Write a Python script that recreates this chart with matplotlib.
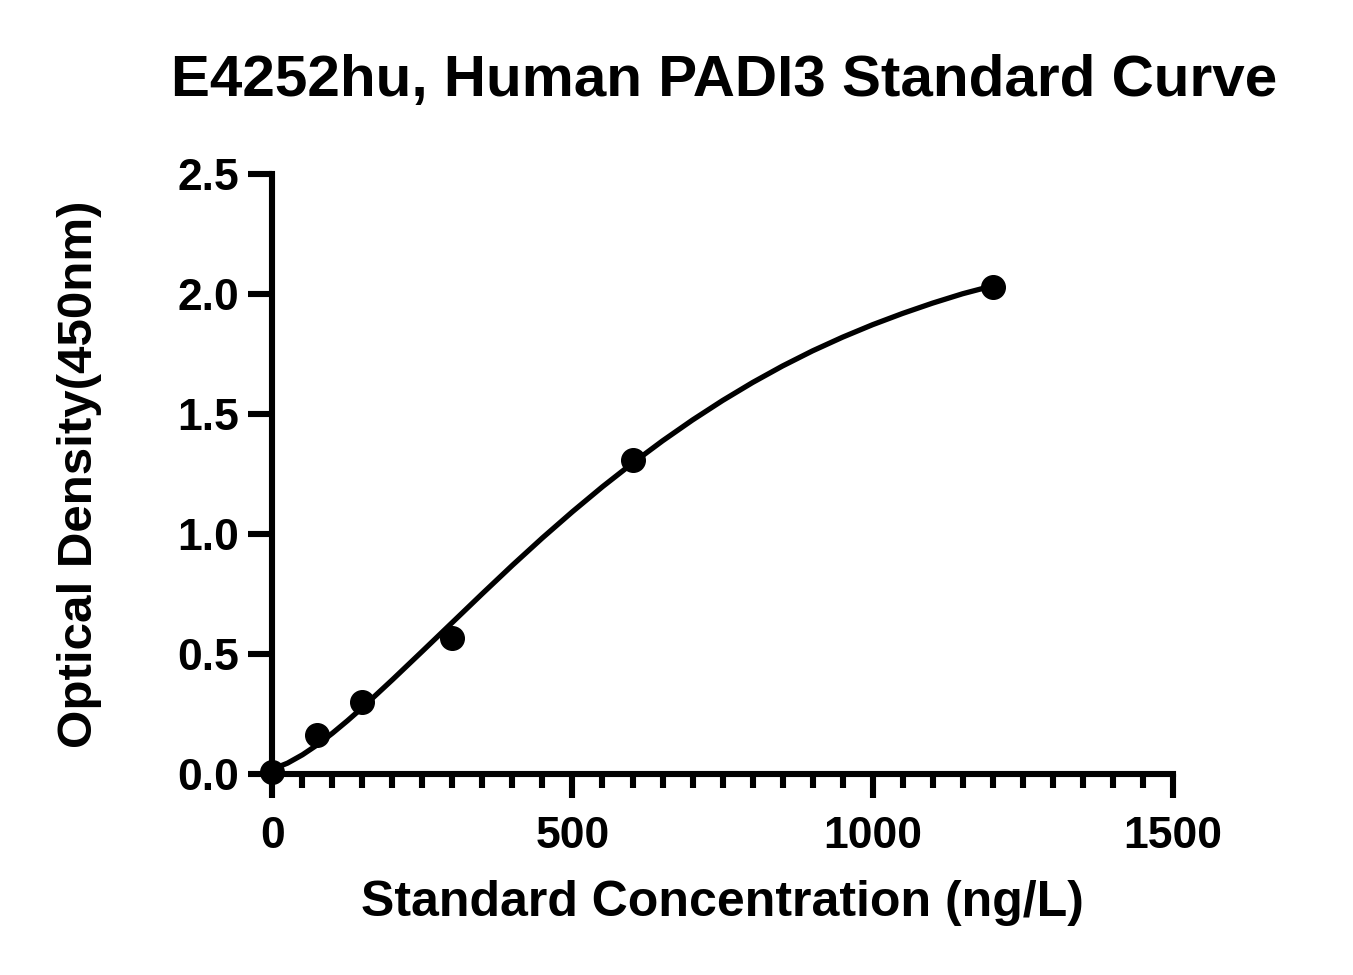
import matplotlib
matplotlib.use("Agg")
import matplotlib.pyplot as plt
from matplotlib.ticker import MultipleLocator

# standard points
conc = [0, 75, 150, 300, 600, 1200]
od = [0.01, 0.162, 0.300, 0.568, 1.308, 2.028]

# fitted curve
curve_x = [0, 25, 50, 75, 100, 125, 150, 200, 250, 300, 350, 400, 450, 500,
           550, 600, 650, 700, 750, 800, 850, 900, 950, 1000, 1050, 1100,
           1150, 1200]
curve_y = [0.02, 0.045, 0.08, 0.122, 0.17, 0.222, 0.277, 0.393, 0.512, 0.632,
           0.752, 0.87, 0.984, 1.093, 1.197, 1.295, 1.388, 1.475, 1.556, 1.631,
           1.70, 1.763, 1.82, 1.872, 1.919, 1.962, 2.001, 2.034]

title = "E4252hu, Human PADI3 Standard Curve"
xlabel = "Standard Concentration (ng/L)"
ylabel = "Optical Density(450nm)"

plt.rcParams['font.family'] = ['Liberation Sans', 'DejaVu Sans']
plt.rcParams['font.weight'] = 'bold'

fig = plt.figure(figsize=(13.53, 9.75), dpi=100)
ax = fig.add_axes([0.2014, 0.2062, 0.6652, 0.6153])

ax.plot(curve_x, curve_y, color='black', lw=3.8, clip_on=False, zorder=3,
        solid_joinstyle='round')
ax.plot(conc, od, 'o', color='black', markersize=17, clip_on=False, zorder=4)

ax.set_xlim(0, 1500)
ax.set_ylim(0, 2.5)
ax.xaxis.set_major_locator(MultipleLocator(500))
ax.xaxis.set_minor_locator(MultipleLocator(50))
ax.yaxis.set_major_locator(MultipleLocator(0.5))
ax.yaxis.set_major_formatter(plt.FuncFormatter(lambda v, p: "%.1f" % v))

for s in ['top', 'right']:
    ax.spines[s].set_visible(False)
for s in ['left', 'bottom']:
    ax.spines[s].set_linewidth(4.4)
    ax.spines[s].set_capstyle('projecting')

ax.tick_params(which='major', length=17, width=4.4, labelsize=32, pad=7)
ax.tick_params(axis='x', which='minor', length=10, width=4.4)
ax.tick_params(axis='x', which='major', pad=13)
for lab in ax.get_xticklabels() + ax.get_yticklabels():
    lab.set_fontweight('bold')

ax.set_xlabel(xlabel, fontsize=36, fontweight='bold', labelpad=17)
ax.set_ylabel(ylabel, fontsize=35.5, fontweight='bold', labelpad=54)
fig.text(0.535, 0.902, title, ha='center', va='baseline', fontsize=42,
         fontweight='bold')

fig.savefig("out.png", dpi=100)
